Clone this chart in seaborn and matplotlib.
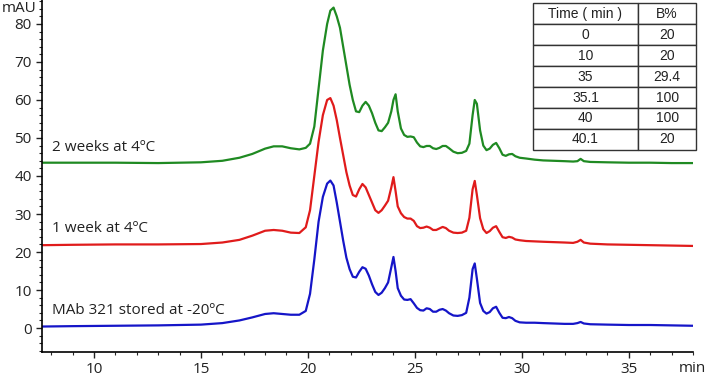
import seaborn as sns
from matplotlib import pyplot as plt
from matplotlib.ticker import MultipleLocator
import pandas as pd

# retention time (min) shared by the three runs
time_min = [7.6, 9, 11, 13, 15, 16, 16.8, 17.4, 18.0, 18.4, 18.8, 19.2, 19.6, 19.9,
            20.1, 20.3, 20.5, 20.7, 20.9, 21.05, 21.2, 21.35, 21.5, 21.65, 21.8, 21.95,
            22.1, 22.25, 22.4, 22.55, 22.7, 22.85, 23.0, 23.15, 23.3, 23.45, 23.6, 23.75,
            23.9, 24.0, 24.1, 24.2, 24.35, 24.5, 24.65, 24.8, 24.95, 25.1, 25.25, 25.4,
            25.55, 25.7, 25.85, 26.0, 26.15, 26.3, 26.45, 26.6, 26.8, 27.0, 27.2, 27.4,
            27.55, 27.7, 27.8, 27.9, 28.05, 28.2, 28.35, 28.5, 28.65, 28.8, 28.95, 29.1,
            29.25, 29.4, 29.55, 29.7, 29.9, 30.2, 30.6, 31.0, 31.5, 32.0, 32.4, 32.6,
            32.75, 32.9, 33.2, 34, 35, 36, 37, 38]

mau_minus20 = [0.4, 0.5, 0.6, 0.7, 0.9, 1.3, 2.0, 2.8, 3.7, 3.9, 3.7, 3.5, 3.5, 4.5,
               9, 18, 28, 34.5, 38, 38.8, 37.5, 33, 28, 23, 18.5, 15.5,
               13.5, 13.3, 14.8, 16, 15.6, 13.8, 11.5, 9.5, 8.7, 9.3, 10.5, 12,
               16, 18.7, 15, 10.5, 8.5, 7.5, 7.4, 7.6, 6.5, 5.3, 4.7, 4.6,
               5.2, 5.0, 4.3, 4.3, 4.8, 5.0, 4.6, 3.9, 3.3, 3.2, 3.4, 4.0,
               8, 15.5, 17, 13, 6.6, 4.5, 3.8, 4.2, 5.2, 5.6, 4.0, 2.7,
               2.6, 2.9, 2.6, 1.9, 1.5, 1.4, 1.4, 1.3, 1.2, 1.1, 1.1, 1.3,
               1.6, 1.2, 1.0, 0.9, 0.8, 0.8, 0.7, 0.6]

mau_1week = [21.8, 21.9, 22.0, 22.0, 22.1, 22.5, 23.2, 24.3, 25.6, 25.8, 25.6, 25.1, 25.0, 26.5,
             31, 40, 49, 56, 60, 60.5, 58.5, 54.7, 50, 45.5, 41, 37.5,
             35, 34.6, 36.5, 37.9, 37, 35, 33, 31, 30.3, 31, 32.2, 33.5,
             37, 39.7, 36, 32, 30.2, 29.2, 28.8, 28.8, 28.2, 26.8, 26.3, 26.4,
             26.7, 26.4, 25.8, 25.8, 26.2, 26.6, 26.3, 25.6, 25.1, 25.0, 25.1, 25.6,
             29, 36.5, 38.7, 35, 28.9, 26, 25, 25.5, 26.4, 26.8, 25.3, 23.9,
             23.7, 24, 23.8, 23.3, 23.1, 22.9, 22.8, 22.7, 22.6, 22.5, 22.4, 22.7,
             23.2, 22.5, 22.2, 22.0, 21.9, 21.8, 21.7, 21.6]

mau_2weeks = [43.5, 43.5, 43.5, 43.4, 43.6, 44.0, 44.8, 45.8, 47.2, 47.8, 47.8, 47.3, 47.0, 47.4,
              48.5, 53, 63, 73, 80, 83.5, 84.3, 82, 79, 74, 69, 64,
              60, 57, 56.8, 58.5, 59.5, 58.5, 56.5, 54, 52, 51.8, 52.8, 54,
              57, 60, 61.5, 57, 52.5, 50.8, 50.3, 50.4, 50.2, 48.8, 47.8, 47.6,
              47.9, 47.9, 47.3, 47.1, 47.4, 47.9, 47.9, 47.3, 46.4, 46.0, 46.1, 46.6,
              48.5, 56, 60, 59, 52, 48, 46.8, 47.2, 48.2, 48.7, 47.3, 45.6,
              45.3, 45.7, 45.8, 45.2, 44.8, 44.6, 44.3, 44.1, 44.0, 43.9, 43.8, 43.9,
              44.5, 43.9, 43.7, 43.6, 43.5, 43.5, 43.4, 43.4]

samples = ['MAb 321 stored at -20ºC', '1 week at 4ºC', '2 weeks at 4ºC']
colors = ['#1515c8', '#e01b1b', '#1f8a22']
label_y = [2.6, 24.2, 45.6]

# gradient table
grad_time = ['0', '10', '35', '35.1', '40', '40.1']
grad_b = ['20', '20', '29.4', '100', '100', '20']

df = pd.concat([
    pd.DataFrame({'time': time_min, 'mAU': mau_minus20, 'sample': samples[0]}),
    pd.DataFrame({'time': time_min, 'mAU': mau_1week, 'sample': samples[1]}),
    pd.DataFrame({'time': time_min, 'mAU': mau_2weeks, 'sample': samples[2]}),
])

sns.set_style("ticks")
plt.rcParams['font.family'] = ['Open Sans', 'DejaVu Sans']

fig = plt.figure(figsize=(7.07, 3.78), dpi=100)
ax = fig.add_axes([0.0594, 0.0688, 0.9207, 0.9312])

sns.lineplot(data=df, x='time', y='mAU', hue='sample', palette=dict(zip(samples, colors)),
             linewidth=1.6, legend=False, ax=ax, solid_joinstyle='round')

for name, yy in zip(samples, label_y):
    ax.text(8.05, yy, name, fontsize=11, color='#222222', va='bottom', ha='left')

ax.set_xlim(7.57, 38.0)
ax.set_ylim(-6.3, 86.3)
ax.xaxis.set_major_locator(MultipleLocator(5))
ax.xaxis.set_minor_locator(MultipleLocator(1))
ax.yaxis.set_major_locator(MultipleLocator(10))
ax.yaxis.set_minor_locator(MultipleLocator(2))
ax.tick_params(which='major', length=4, width=1, labelsize=11, colors='#222222')
ax.tick_params(which='minor', length=2, width=0.8)
ax.set_xlabel('')
ax.set_ylabel('')
sns.despine(ax=ax)
for s in ['left', 'bottom']:
    ax.spines[s].set_color('black')
    ax.spines[s].set_linewidth(1.2)

fig.text(0.002, 0.998, 'mAU', fontsize=11, va='top', ha='left', color='#222222')
fig.text(0.998, 0.005, 'min', fontsize=11, va='bottom', ha='right', color='#222222')

tab = ax.table(cellText=[[a, b] for a, b in zip(grad_time, grad_b)],
               colLabels=['Time ( min )', 'B%'], cellLoc='center',
               colWidths=[0.644, 0.356], bbox=[0.754, 0.574, 0.251, 0.417])
tab.auto_set_font_size(False)
for (r, c), cell in tab.get_celld().items():
    cell.set_fontsize(10)
    cell.set_linewidth(1.0)
    cell.set_edgecolor('#333333')
    cell.get_text().set_fontfamily(['Liberation Sans', 'DejaVu Sans'])
    cell.get_text().set_color('#222222')

fig.savefig('out.png', dpi=100)
